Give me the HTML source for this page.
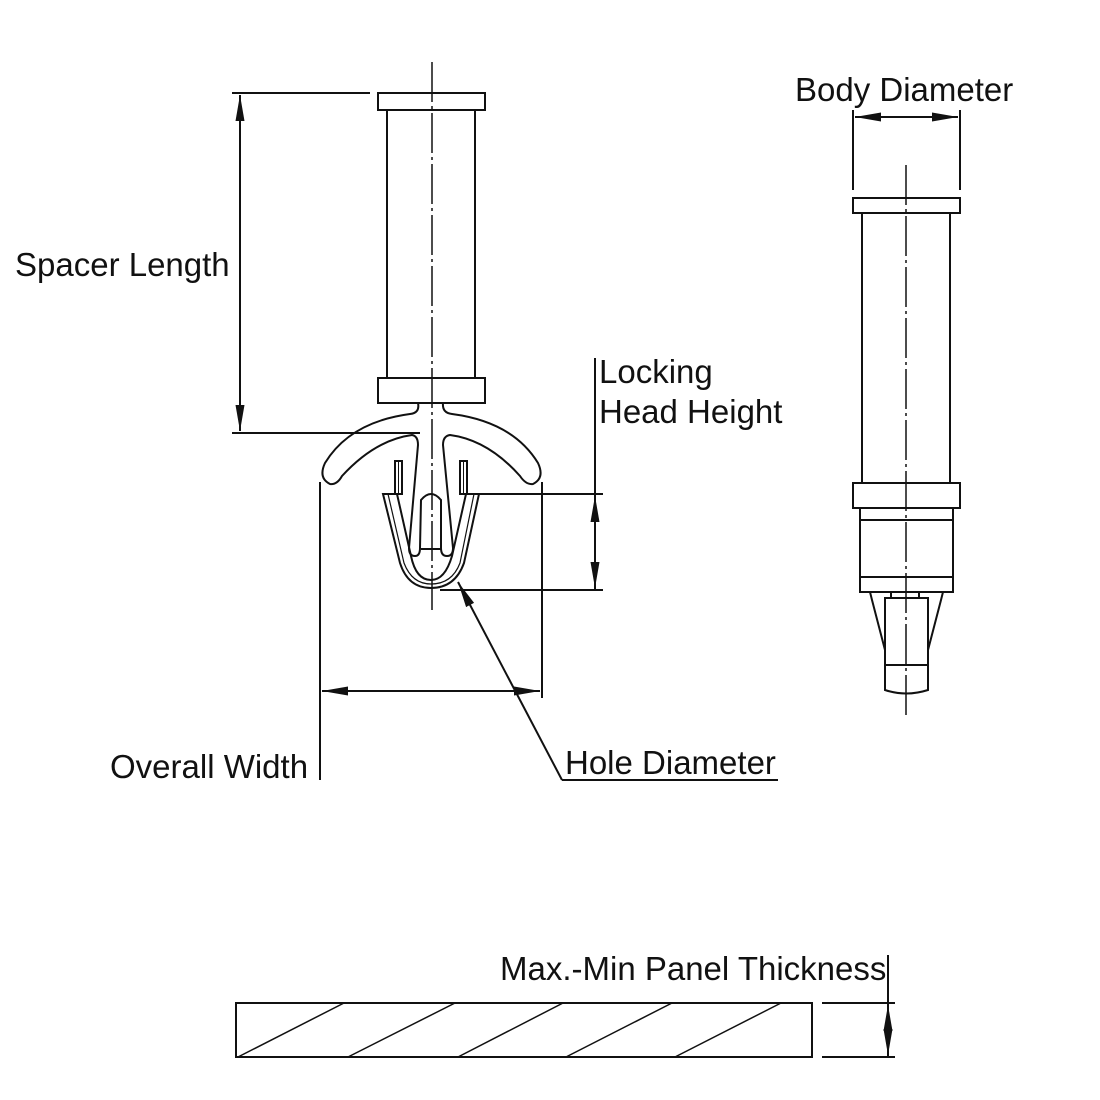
<!DOCTYPE html>
<html><head><style>html,body{margin:0;padding:0;background:#fff}svg{display:block}
text{font-family:"Liberation Sans",Arial,sans-serif;font-size:33px;fill:#111}</style></head>
<body>
<svg width="1100" height="1100" viewBox="0 0 1100 1100" xmlns="http://www.w3.org/2000/svg">
<defs>
<marker id="a" viewBox="0 0 26 10" refX="26" refY="5" markerWidth="26" markerHeight="10" markerUnits="userSpaceOnUse" orient="auto-start-reverse"><path d="M0,0.5 L26,5 L0,9.5 z" fill="#111"/></marker>
</defs>
<g fill="none" stroke="#111" stroke-width="2">
<line x1="432" y1="62" x2="432" y2="610" stroke-width="1.5" stroke-dasharray="40,4,3,4"/>
<rect x="378" y="93" width="107" height="17"/>
<line x1="387" y1="110" x2="387" y2="378"/>
<line x1="475" y1="110" x2="475" y2="378"/>
<rect x="378" y="378" width="107" height="25"/>
<path d="M418,403 Q420,413 410,414 Q350,422 325,463 Q318,478 330,484 Q337,485 342,476 Q375,440 412,435 Q418,436 418,445 L409,548 Q409,556 415,556 Q420,556 420,548 L421,500 Q431,488 441,500 L441,548 Q441,556 447,556 Q453,556 453,548 L443,445 Q443,436 450,435 Q488,440 520,476 Q526,485 533,484 Q545,478 538,463 Q513,422 452,414 Q442,413 443,403"/>
<line x1="421" y1="549" x2="441" y2="549"/>
<rect x="395" y="461" width="7" height="33"/>
<rect x="460" y="461" width="7" height="33"/>
<line x1="398.5" y1="461" x2="398.5" y2="494" stroke-width="1"/>
<line x1="463.5" y1="461" x2="463.5" y2="494" stroke-width="1"/>
<path d="M383,494 L400,563 Q408,588 431,588 Q455,588 464,563 L479,494 L466,494 L452,556 Q445,580 431,580 Q416,580 411,556 L397,494 Z"/>
<path d="M388,494 L404,563 Q412,584 431,584 Q452,584 460,563 L474,494" stroke-width="1.2"/>
<line x1="232" y1="93" x2="370" y2="93"/>
<line x1="232" y1="433" x2="420" y2="433"/>
<line x1="240" y1="95" x2="240" y2="431" marker-start="url(#a)" marker-end="url(#a)"/>
<line x1="595" y1="358" x2="595" y2="590"/>
<line x1="465" y1="494" x2="603" y2="494"/>
<line x1="440" y1="590" x2="603" y2="590"/>
<line x1="595" y1="496" x2="595" y2="588" marker-start="url(#a)" marker-end="url(#a)"/>
<line x1="320" y1="482" x2="320" y2="780"/>
<line x1="542" y1="482" x2="542" y2="698"/>
<line x1="322" y1="691" x2="540" y2="691" marker-start="url(#a)" marker-end="url(#a)"/>
<polyline points="562,780 778,780"/>
<line x1="562" y1="780" x2="458" y2="582" marker-end="url(#a)"/>
<line x1="906" y1="165" x2="906" y2="715" stroke-width="1.5" stroke-dasharray="40,4,3,4"/>
<line x1="853" y1="110" x2="853" y2="190"/>
<line x1="960" y1="110" x2="960" y2="190"/>
<line x1="855" y1="117" x2="958" y2="117" marker-start="url(#a)" marker-end="url(#a)"/>
<rect x="853" y="198" width="107" height="15"/>
<line x1="862" y1="213" x2="862" y2="483"/>
<line x1="950" y1="213" x2="950" y2="483"/>
<rect x="853" y="483" width="107" height="25"/>
<rect x="860" y="508" width="93" height="84"/>
<line x1="860" y1="520" x2="953" y2="520"/>
<line x1="860" y1="577" x2="953" y2="577"/>
<path d="M885,598 L885,690 Q906,697 928,690 L928,598 Z"/>
<line x1="885" y1="665" x2="928" y2="665"/>
<line x1="891" y1="592" x2="891" y2="598"/>
<line x1="919" y1="592" x2="919" y2="598"/>
<path d="M870,592 L872,600 L885,650"/>
<path d="M943,592 L941,600 L928,650"/>
<rect x="236" y="1003" width="576" height="54"/>
<g stroke-width="1.5">
<line x1="238" y1="1057" x2="344" y2="1003"/>
<line x1="348" y1="1057" x2="455" y2="1003"/>
<line x1="458" y1="1057" x2="563" y2="1003"/>
<line x1="566" y1="1057" x2="672" y2="1003"/>
<line x1="675" y1="1057" x2="781" y2="1003"/>
</g>
<line x1="822" y1="1003" x2="895" y2="1003"/>
<line x1="822" y1="1057" x2="895" y2="1057"/>
<line x1="888" y1="955" x2="888" y2="1057"/>
<line x1="888" y1="1030" x2="888" y2="1005" marker-end="url(#a)"/>
<line x1="888" y1="1030" x2="888" y2="1055" marker-end="url(#a)"/>
</g>
<text x="15" y="276">Spacer Length</text>
<text x="599" y="383">Locking</text>
<text x="599" y="423">Head Height</text>
<text x="110" y="778">Overall Width</text>
<text x="565" y="774">Hole Diameter</text>
<text x="795" y="101">Body Diameter</text>
<text x="500" y="980">Max.-Min Panel Thickness</text>
</svg>
</body></html>
